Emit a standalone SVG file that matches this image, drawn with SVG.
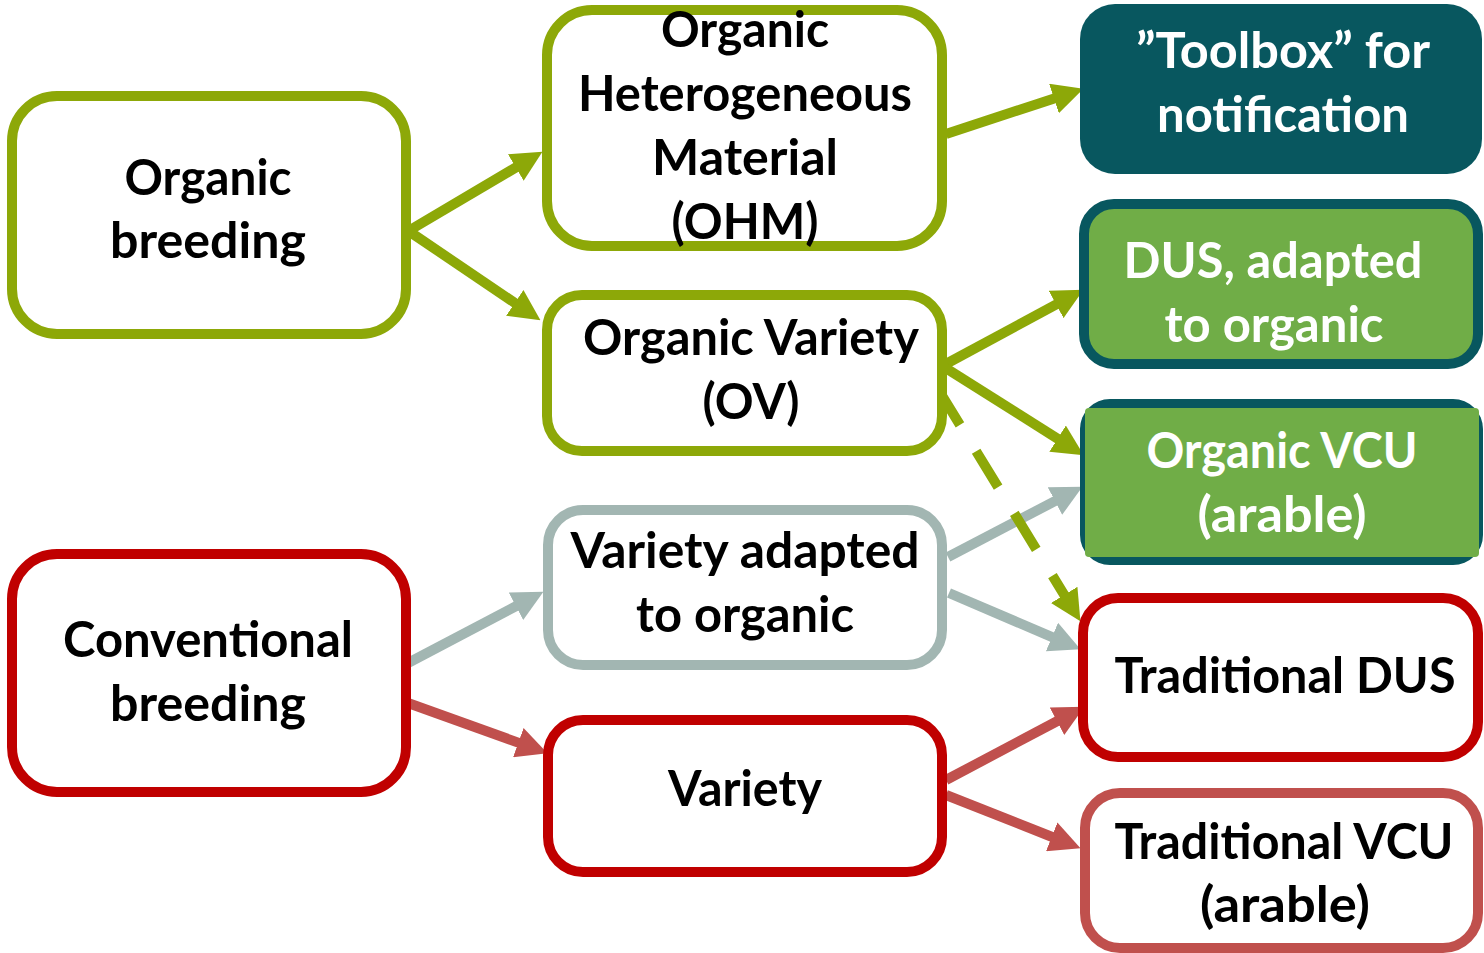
<svg xmlns="http://www.w3.org/2000/svg" width="1484" height="953" viewBox="0 0 1484 953">
<style>
.box{stroke-width:10;fill:#ffffff}
.g{stroke:#8DA808}
.r{stroke:#C00000}
.lr{stroke:#C0504D}
.gr{stroke:#A2B6B2}
text{font-family:Lato,"Open Sans","Liberation Sans",sans-serif;font-weight:bold;font-size:49px;text-anchor:middle;fill:#000000}
.w{fill:#ffffff}
.c{fill:none;stroke-width:10}
</style>
<defs>
<marker id="ag" markerUnits="userSpaceOnUse" markerWidth="31" markerHeight="31" viewBox="0 0 30 30" refX="15" refY="15" orient="auto"><path d="M0,0 L30,15 L0,30 z" fill="#8DA808"/></marker>
<marker id="agr" markerUnits="userSpaceOnUse" markerWidth="31" markerHeight="31" viewBox="0 0 30 30" refX="15" refY="15" orient="auto"><path d="M0,0 L30,15 L0,30 z" fill="#A2B6B2"/></marker>
<marker id="ar" markerUnits="userSpaceOnUse" markerWidth="31" markerHeight="31" viewBox="0 0 30 30" refX="15" refY="15" orient="auto"><path d="M0,0 L30,15 L0,30 z" fill="#C0504D"/></marker>
</defs>
<rect width="1484" height="953" fill="#ffffff"/>
<g id="connectors">
<line class="c g" x1="410" y1="230" x2="529.1" y2="159.6" marker-end="url(#ag)"/>
<line class="c g" x1="410" y1="232" x2="527.6" y2="311.6" marker-end="url(#ag)"/>
<line class="c g" x1="946" y1="134" x2="1068.7" y2="93.7" marker-end="url(#ag)"/>
<line class="c g" x1="944" y1="365" x2="1069.8" y2="297.1" marker-end="url(#ag)"/>
<line class="c g" x1="944" y1="367" x2="1070.7" y2="446.9" marker-end="url(#ag)"/>
<line class="c gr" x1="948" y1="557" x2="1068.7" y2="493.9" marker-end="url(#agr)"/>
<line class="c gr" x1="949" y1="593" x2="1066.2" y2="643.1" marker-end="url(#agr)"/>
<line class="c gr" x1="408" y1="663" x2="529.7" y2="599" marker-end="url(#agr)"/>
<line class="c lr" x1="408" y1="703" x2="532.9" y2="747.9" marker-end="url(#ar)"/>
<line class="c lr" x1="946" y1="780" x2="1070.7" y2="714" marker-end="url(#ar)"/>
<line class="c lr" x1="946" y1="795" x2="1066.1" y2="842.5" marker-end="url(#ar)"/>
<line class="c g" x1="938" y1="389" x2="1072.3" y2="608.1" stroke-dasharray="42 31" marker-end="url(#ag)"/>
</g>
<g id="organic-breeding">
<rect class="box g" x="12" y="96" width="394" height="238" rx="45"/>
<text x="208" y="195" textLength="167" lengthAdjust="spacingAndGlyphs">Organic</text>
<text x="208" y="258" textLength="196" lengthAdjust="spacingAndGlyphs">breeding</text>
</g>
<g id="ohm">
<rect class="box g" x="547" y="10" width="395" height="236" rx="45"/>
<text x="745" y="47" textLength="168" lengthAdjust="spacingAndGlyphs">Organic</text>
<text x="745" y="111" textLength="334" lengthAdjust="spacingAndGlyphs">Heterogeneous</text>
<text x="745" y="175" textLength="186" lengthAdjust="spacingAndGlyphs">Material</text>
<text x="745" y="239" textLength="147" lengthAdjust="spacingAndGlyphs">(OHM)</text>
</g>
<g id="ov">
<rect class="box g" x="547" y="295" width="395" height="156" rx="35"/>
<text x="751" y="355" textLength="336" lengthAdjust="spacingAndGlyphs">Organic Variety</text>
<text x="751" y="419" textLength="97" lengthAdjust="spacingAndGlyphs">(OV)</text>
</g>
<g id="variety-adapted">
<rect class="box gr" x="548" y="510" width="394" height="155" rx="35"/>
<text x="745" y="568" textLength="349" lengthAdjust="spacingAndGlyphs">Variety adapted</text>
<text x="745" y="632" textLength="218" lengthAdjust="spacingAndGlyphs">to organic</text>
</g>
<g id="variety">
<rect class="box r" x="548" y="720" width="394" height="152" rx="35"/>
<text x="745" y="806" textLength="154" lengthAdjust="spacingAndGlyphs">Variety</text>
</g>
<g id="conventional-breeding">
<rect class="box r" x="12" y="554" width="394" height="238" rx="45"/>
<text x="208" y="657" textLength="290" lengthAdjust="spacingAndGlyphs">Conventional</text>
<text x="208" y="721" textLength="196" lengthAdjust="spacingAndGlyphs">breeding</text>
</g>
<g id="toolbox">
<rect x="1080" y="4" width="402" height="170" rx="35" fill="#08575F"/>
<text class="w" x="1283" y="68" textLength="294" lengthAdjust="spacingAndGlyphs">”Toolbox” for</text>
<text class="w" x="1283" y="132" textLength="252" lengthAdjust="spacingAndGlyphs">notification</text>
</g>
<g id="dus-adapted">
<rect x="1084" y="204" width="394" height="160" rx="30" fill="#70AD47" stroke="#08575F" stroke-width="10"/>
<text class="w" x="1273" y="278" textLength="299" lengthAdjust="spacingAndGlyphs">DUS, adapted</text>
<text class="w" x="1274" y="342" textLength="219" lengthAdjust="spacingAndGlyphs">to organic</text>
</g>
<g id="organic-vcu">
<rect x="1080" y="399" width="403" height="166" rx="30" fill="#08575F"/>
<rect x="1085" y="408" width="394" height="149" rx="4" fill="#70AD47"/>
<text class="w" x="1282" y="468" textLength="271" lengthAdjust="spacingAndGlyphs">Organic VCU</text>
<text class="w" x="1282" y="532" textLength="169" lengthAdjust="spacingAndGlyphs">(arable)</text>
</g>
<g id="traditional-dus">
<rect class="box r" x="1083" y="598" width="395" height="159" rx="35"/>
<text x="1285" y="693" textLength="341" lengthAdjust="spacingAndGlyphs">Traditional DUS</text>
</g>
<g id="traditional-vcu">
<rect class="box lr" x="1085" y="793" width="393" height="155" rx="35"/>
<text x="1284" y="859" textLength="339" lengthAdjust="spacingAndGlyphs">Traditional VCU</text>
<text x="1285" y="922" textLength="170" lengthAdjust="spacingAndGlyphs">(arable)</text>
</g>
</svg>
